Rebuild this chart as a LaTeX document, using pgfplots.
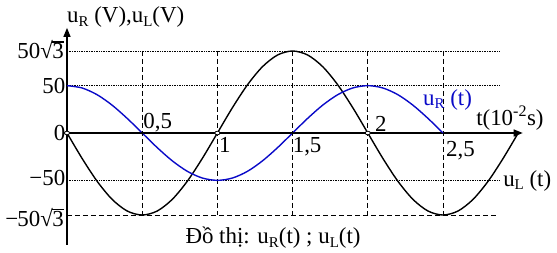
\documentclass[border=0pt]{standalone}
\usepackage{pgfplots}
\pgfplotsset{compat=1.18}
\usepackage{fontspec}
\setmainfont{Liberation Serif}
\usetikzlibrary{arrows.meta}
\newcommand{\sub}[1]{\raisebox{-0.3ex}{\fontsize{15}{15}\selectfont #1}}
\newcommand{\rt}{\mbox{√\kern-0.5bp\rlap{\rule[0.7em]{0.5em}{0.055em}}3}}
\definecolor{myblue}{RGB}{10,10,200}
\begin{document}
\fontsize{23}{25}\selectfont
\begin{tikzpicture}
\path[use as bounding box] (-67bp,-120bp) rectangle (490bp,133bp);
\begin{axis}[at={(0,0)}, anchor=origin,
  x=150.4bp, y=0.947bp,
  xmin=0, xmax=3.03, ymin=-118, ymax=111,
  axis lines=middle,
  axis line style={line width=1.3pt, -{Triangle[length=9bp,width=7bp]}},
  xtick=\empty, ytick=\empty, clip=false,
  every node/.append style={font=\fontsize{23}{25}\selectfont}]
% guide lines
\addplot[black, densely dotted, line width=0.7pt] coordinates {(0,86.603) (2.88,86.603)};
\addplot[black, densely dotted, line width=0.7pt] coordinates {(0,50) (2.88,50)};
\addplot[black, densely dotted, line width=0.7pt] coordinates {(0,-50) (2.88,-50)};
\addplot[black, dash pattern=on 5bp off 3bp, line width=0.9pt] coordinates {(0,-86.603) (2.86,-86.603)};
\addplot[black, dash pattern=on 5bp off 3bp, line width=0.9pt] coordinates {(0.5,86.603) (0.5,-86.603)};
\addplot[black, dash pattern=on 5bp off 3bp, line width=0.9pt] coordinates {(1,86.603) (1,-86.603)};
\addplot[black, dash pattern=on 5bp off 3bp, line width=0.9pt] coordinates {(1.5,86.603) (1.5,-86.603)};
\addplot[black, dash pattern=on 5bp off 3bp, line width=0.9pt] coordinates {(2,86.603) (2,-86.603)};
\addplot[black, dash pattern=on 5bp off 3bp, line width=0.9pt] coordinates {(2.5,86.603) (2.5,-86.603)};
% u_L (black)
\addplot[black, line width=1.4pt, smooth] coordinates {
(0,0) (0.1,-26.762) (0.2,-50.904) (0.3,-70.064) (0.4,-82.365) (0.5,-86.603)
(0.6,-82.365) (0.7,-70.064) (0.8,-50.904) (0.9,-26.762) (1.0,0)
(1.1,26.762) (1.2,50.904) (1.3,70.064) (1.4,82.365) (1.5,86.603)
(1.6,82.365) (1.7,70.064) (1.8,50.904) (1.9,26.762) (2.0,0)
(2.1,-26.762) (2.2,-50.904) (2.3,-70.064) (2.4,-82.365) (2.5,-86.603)
(2.6,-82.365) (2.7,-70.064) (2.8,-50.904) (2.9,-26.762) (3.0,0)};
% u_R (blue)
\addplot[myblue, line width=1.4pt, smooth] coordinates {
(0,50) (0.1,47.553) (0.2,40.451) (0.3,29.389) (0.4,15.451) (0.5,0)
(0.6,-15.451) (0.7,-29.389) (0.8,-40.451) (0.9,-47.553) (1.0,-50)
(1.1,-47.553) (1.2,-40.451) (1.3,-29.389) (1.4,-15.451) (1.5,0)
(1.6,15.451) (1.7,29.389) (1.8,40.451) (1.9,47.553) (2.0,50)
(2.1,47.553) (2.2,40.451) (2.3,29.389) (2.4,15.451) (2.5,0)};
% markers
\addplot[only marks, mark=*, mark size=2.6pt, mark options={fill=white, draw=black, line width=0.8pt, yscale=0.7}] coordinates {(0,0) (1,0) (2,0)};
\addplot[only marks, mark=*, mark size=1.3pt, black] coordinates {(0.5,0) (1.5,0)};
% labels
\node[anchor=east, inner sep=0bp] at (axis cs:-0.02,88) {50\rt};
\node[anchor=east, inner sep=0bp] at (axis cs:-0.01,50) {50};
\node[anchor=east, inner sep=0bp] at (axis cs:-0.01,0) {0};
\node[anchor=east, inner sep=0bp] at (axis cs:-0.01,-48) {−50};
\node[anchor=east, inner sep=0bp] at (axis cs:-0.02,-89) {−\kern-1bp50\rt};
\node[anchor=south west, inner sep=1bp] at (axis cs:0.5,0) {0,5};
\node[anchor=north west, inner sep=0bp] at (axis cs:1.01,-4) {1};
\node[anchor=north west, inner sep=0bp] at (axis cs:1.5,-4) {1,5};
\node[anchor=south west, inner sep=1bp] at (axis cs:2.04,0) {2};
\node[anchor=north west, inner sep=0bp] at (axis cs:2.52,-9) {2,5};
\node[anchor=south west, inner sep=0bp] at (axis cs:2.72,3) {t(10\textsuperscript{-2}s)};
\node[myblue, anchor=center] at (axis cs:2.53,35) {u\sub{R} (t)};
\node[anchor=center] at (axis cs:3.06,-51) {u\sub{L} (t)};
\node[anchor=west, inner sep=0bp] at (axis cs:0,122) {u\sub{R} (V),u\sub{L}(V)};
\node[anchor=center] at (axis cs:1.37,-111) {Đồ thị: u\sub{R}(t) ; u\sub{L}(t)};
\end{axis}
\end{tikzpicture}
\end{document}
